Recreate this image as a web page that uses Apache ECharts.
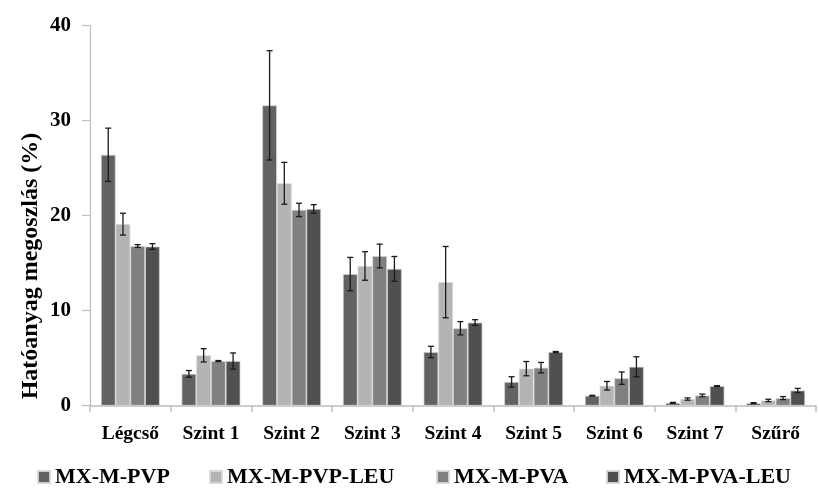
<!DOCTYPE html>
<html>
<head>
<meta charset="utf-8">
<script src="https://cdn.jsdelivr.net/npm/echarts@6/dist/echarts.min.js"></script>
<style>html,body{margin:0;padding:0;background:#fff}#c{width:818px;height:492px}</style>
</head>
<body>
<div id="c"></div>
<script>
const categories = ['Légcső', 'Szint 1', 'Szint 2', 'Szint 3', 'Szint 4', 'Szint 5', 'Szint 6', 'Szint 7', 'Szűrő'];
const seriesNames = ['MX-M-PVP', 'MX-M-PVP-LEU', 'MX-M-PVA', 'MX-M-PVA-LEU'];
const pvp      = [26.4, 3.35, 31.6, 13.85, 5.65, 2.5, 1.05, 0.3, 0.27];
const pvpLeu   = [19.1, 5.3, 23.4, 14.7, 13.0, 3.9, 2.1, 0.7, 0.55];
const pva      = [16.8, 4.7, 20.6, 15.75, 8.15, 4.0, 2.9, 1.08, 0.8];
const pvaLeu   = [16.75, 4.7, 20.7, 14.4, 8.75, 5.65, 4.1, 2.07, 1.6];
const pvpErr    = [2.8, 0.35, 5.75, 1.75, 0.6, 0.55, 0.04, 0.05, 0.05];
const pvpLeuErr = [1.15, 0.7, 2.2, 1.5, 3.75, 0.75, 0.45, 0.12, 0.13];
const pvaErr    = [0.15, 0.05, 0.7, 1.25, 0.7, 0.55, 0.65, 0.14, 0.16];
const pvaLeuErr = [0.3, 0.85, 0.45, 1.3, 0.3, 0.05, 1.05, 0.04, 0.22];
const yTicks = [0, 10, 20, 30, 40];
const yTitle = 'Hatóanyag megoszlás (%)';

const values = [pvp, pvpLeu, pva, pvaLeu];
const errs = [pvpErr, pvpLeuErr, pvaErr, pvaLeuErr];
const colors = ['#626262', '#b4b4b4', '#808080', '#505050'];
const GAP = 0.27;
const FONT = '"Liberation Serif", "Times New Roman", serif';

const chart = echarts.init(document.getElementById('c'), null, {renderer: 'canvas'});

const series = [];
values.forEach((vals, i) => {
  series.push({
    name: seriesNames[i], type: 'bar', data: vals,
    barGap: '0%', barCategoryGap: (GAP * 100) + '%',
    itemStyle: {color: colors[i], borderColor: 'rgba(215,215,215,0.9)', borderWidth: 0.8},
    z: 2
  });
});
values.forEach((vals, i) => {
  series.push({
    name: seriesNames[i] + ' err', type: 'custom', z: 5,
    data: vals.map((v, k) => [k, v, errs[i][k]]),
    encode: {x: 0, y: 1},
    renderItem: function (params, api) {
      const idx = api.value(0), v = api.value(1), e = api.value(2);
      const band = api.size([1, 0])[0];
      const bw = band * (1 - GAP) / 4;
      const c = api.coord([idx, v]);
      const x = c[0] - 2 * bw + (i + 0.5) * bw;
      const top = api.coord([idx, v + e])[1];
      const bot = api.coord([idx, v - e])[1];
      const cap = 3;
      const st = {stroke: '#1a1a1a', lineWidth: 1.3};
      return {type: 'group', children: [
        {type: 'line', shape: {x1: x, y1: top, x2: x, y2: bot}, style: st},
        {type: 'line', shape: {x1: x - cap, y1: top, x2: x + cap, y2: top}, style: st},
        {type: 'line', shape: {x1: x - cap, y1: bot, x2: x + cap, y2: bot}, style: st}
      ]};
    }
  });
});

const legendLefts = [32, 204, 431, 601];
const legends = seriesNames.map((n, i) => ({
  data: [n], left: legendLefts[i], top: 461, itemWidth: 12, itemHeight: 12, itemGap: 6,
  icon: 'rect', textStyle: {fontFamily: FONT, fontWeight: 'bold', fontSize: 22, color: '#000'},
  selectedMode: false
}));

chart.setOption({
  animation: false,
  backgroundColor: '#fff',
  grid: {left: 90, right: 2, top: 25.5, bottom: 86.3, containLabel: false},
  legend: legends,
  graphic: [{
    type: 'text', x: 31, y: 266, rotation: Math.PI / 2,
    style: {text: yTitle, fontFamily: FONT, fontWeight: 'bold', fontSize: 24, fill: '#000',
            textAlign: 'center', textVerticalAlign: 'middle'}
  }],
  xAxis: {
    type: 'category', data: categories,
    axisLine: {lineStyle: {color: '#bdbdbd', width: 1.5}},
    axisTick: {show: true, length: 6, lineStyle: {color: '#bdbdbd', width: 1.5}},
    axisLabel: {fontFamily: FONT, fontWeight: 'bold', fontSize: 19.5, color: '#000', margin: 18, interval: 0}
  },
  yAxis: {
    type: 'value', min: yTicks[0], max: yTicks[yTicks.length - 1], interval: 10,
    axisLine: {show: true, lineStyle: {color: '#bdbdbd', width: 1.2}},
    axisTick: {show: true, length: 8, lineStyle: {color: '#bdbdbd', width: 1.2}},
    axisLabel: {fontFamily: FONT, fontWeight: 'bold', fontSize: 21, color: '#000', margin: 19},
    splitLine: {show: false}
  },
  series: series
});
</script>
</body>
</html>
